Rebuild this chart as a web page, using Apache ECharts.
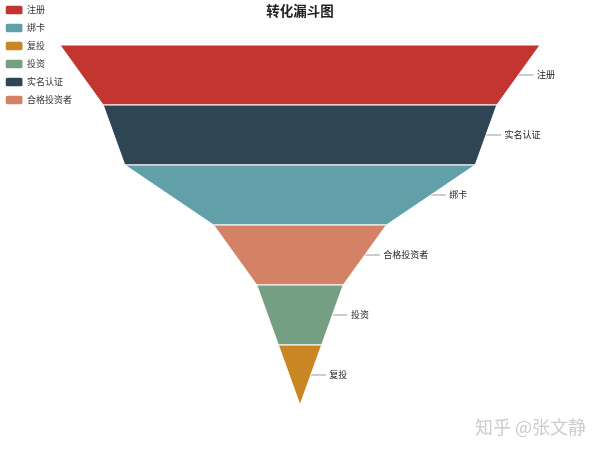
<!DOCTYPE html>
<html>
<head>
<meta charset="utf-8">
<script src="https://cdn.jsdelivr.net/npm/echarts@6/dist/echarts.min.js"></script>
<style>
html,body{margin:0;padding:0;background:#fff;}
#main{width:600px;height:450px;}
</style>
</head>
<body>
<div id="main"></div>
<script>
var stageNames = ['注册', '实名认证', '绑卡', '合格投资者', '投资', '复投'];
var stageValues = [100, 82, 73, 36, 18, 9];
var stageColors = ['#c23531', '#2f4554', '#61a0a8', '#d48265', '#749f83', '#ca8622'];
var legendOrder = ['注册', '绑卡', '复投', '投资', '实名认证', '合格投资者'];
var titleText = '转化漏斗图';
var watermarkText = '知乎 @张文静';

var FONT = '"Noto Sans CJK SC", "Noto Sans", sans-serif';
var chart = echarts.init(document.getElementById('main'), null, {renderer: 'canvas'});

var seriesData = stageNames.map(function (n, i) {
  return { name: n, value: stageValues[i], itemStyle: { color: stageColors[i] } };
});

chart.setOption({
  animation: false,
  backgroundColor: '#fff',
  title: {
    text: titleText,
    left: 'center',
    top: 3.75,
    padding: 0,
    textStyle: { fontSize: 13.5, fontWeight: 'bold', color: '#222', fontFamily: FONT }
  },
  legend: {
    orient: 'vertical',
    left: 3.75,
    top: 3.75,
    padding: 0,
    icon: 'roundRect',
    itemWidth: 18.75,
    itemHeight: 10.5,
    itemGap: 5.5,
    data: legendOrder,
    textStyle: { fontSize: 9, lineHeight: 10.5, color: '#333', fontFamily: FONT, padding: [0, 0, 0, -1.5] }
  },
  graphic: [{
    type: 'text',
    right: 14,
    bottom: 14,
    style: {
      text: watermarkText,
      fill: '#cccccc',
      font: '18px ' + FONT
    },
    silent: true
  }],
  series: [{
    type: 'funnel',
    left: 60,
    top: 45,
    width: 480,
    height: 360,
    min: 0,
    max: 100,
    minSize: '0%',
    maxSize: '100%',
    sort: 'descending',
    gap: 0,
    label: {
      show: true,
      position: 'right',
      color: '#222',
      fontSize: 9,
      fontFamily: FONT,
      padding: [0, 0, 0, -1.5]
    },
    labelLine: {
      show: true,
      length: 15,
      lineStyle: { color: '#999', width: 1 }
    },
    itemStyle: { borderColor: '#fff', borderWidth: 1 },
    data: seriesData
  }]
});
</script>
</body>
</html>
